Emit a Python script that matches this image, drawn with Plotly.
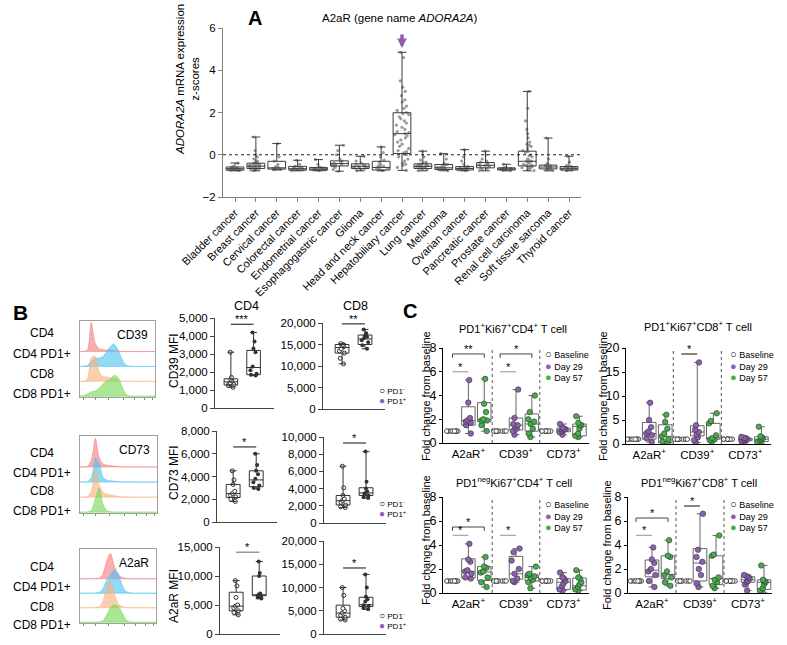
import plotly.graph_objects as go

W, H = 787, 645
FONT = "Arial, Liberation Sans, Helvetica, sans-serif"
PURPLE = "#8e5fb3"
GREEN = "#45ad4a"

# ---------------- Panel A: ADORA2A z-scores by cancer type ----------------
CANCERS = ["Bladder cancer", "Breast cancer", "Cervical cancer", "Colorectal cancer",
           "Endometrial cancer", "Esophagogastric cancer", "Glioma", "Head and neck cancer",
           "Hepatobiliary cancer", "Lung cancer", "Melanoma", "Ovarian cancer",
           "Pancreatic cancer", "Prostate cancer", "Renal cell carcinoma",
           "Soft tissue sarcoma", "Thyroid cancer"]
A_LO = [-0.76, -0.76, -0.72, -0.76, -0.76, -0.78, -0.76, -0.76, -0.74, -0.76, -0.76, -0.76, -0.76, -0.76, -0.76, -0.76, -0.76]
A_Q1 = [-0.73, -0.65, -0.68, -0.73, -0.73, -0.53, -0.65, -0.72, 0.06, -0.65, -0.70, -0.72, -0.62, -0.72, -0.53, -0.67, -0.72]
A_MED = [-0.66, -0.54, -0.62, -0.66, -0.68, -0.42, -0.55, -0.60, 1.00, -0.55, -0.62, -0.65, -0.50, -0.68, -0.31, -0.58, -0.64]
A_Q3 = [-0.58, -0.40, -0.31, -0.55, -0.60, -0.29, -0.43, -0.31, 1.99, -0.43, -0.46, -0.56, -0.37, -0.62, 0.17, -0.49, -0.56]
A_HI = [-0.39, 0.84, 0.53, -0.26, -0.23, 0.45, -0.07, 0.37, 4.85, 0.17, 0.05, 0.24, 0.17, -0.45, 3.00, 0.79, -0.07]
A_POINTS = [
    [-0.4, -0.55, -0.6, -0.62, -0.64, -0.65, -0.66, -0.67, -0.68, -0.69, -0.7, -0.7, -0.71, -0.72, -0.73, -0.75],
    [0.84, 0.2, 0.0, -0.1, -0.2, -0.3, -0.35, -0.4, -0.42, -0.45, -0.48, -0.5, -0.52, -0.55, -0.55, -0.58,
     -0.6, -0.6, -0.62, -0.65, -0.68, -0.7, -0.72, -0.75, -0.45, -0.5, -0.6, -0.65],
    [0.53, -0.1, -0.3, -0.45, -0.55, -0.6, -0.62, -0.64, -0.66, -0.68, -0.7],
    [-0.26, -0.45, -0.55, -0.58, -0.6, -0.62, -0.63, -0.64, -0.65, -0.66, -0.68, -0.7, -0.72, -0.75],
    [-0.23, -0.45, -0.6, -0.62, -0.65, -0.66, -0.67, -0.68, -0.7, -0.72, -0.75],
    [0.45, 0.2, 0.0, -0.2, -0.3, -0.35, -0.4, -0.45, -0.48, -0.5, -0.55, -0.6, -0.7, -0.78],
    [-0.07, -0.3, -0.4, -0.45, -0.5, -0.52, -0.55, -0.57, -0.6, -0.62, -0.65, -0.7, -0.75, -0.5, -0.6],
    [0.37, 0.1, -0.1, -0.25, -0.35, -0.45, -0.5, -0.55, -0.58, -0.6, -0.62, -0.65, -0.7, -0.75],
    [4.85, 4.6, 3.5, 3.2, 3.0, 2.8, 2.6, 2.5, 2.3, 2.1, 2.0, 1.9, 1.8, 1.6, 1.5, 1.4, 1.2, 1.1, 1.0,
     0.9, 0.8, 0.6, 0.5, 0.4, 0.2, 0.1, 0.0, -0.2, -0.3, -0.4, -0.5, -0.6, -0.74,
     1.95, 1.7, 1.3, 0.95, 0.7, 0.3, -0.1, -0.45, 2.2, 1.05, 0.15],
    [0.17, -0.1, -0.25, -0.35, -0.4, -0.42, -0.45, -0.48, -0.5, -0.52, -0.55, -0.57, -0.6, -0.62, -0.65, -0.7, -0.75,
     -0.45, -0.5, -0.55, -0.6],
    [0.05, -0.2, -0.4, -0.45, -0.5, -0.55, -0.58, -0.6, -0.62, -0.64, -0.66, -0.7, -0.75],
    [0.24, -0.1, -0.3, -0.45, -0.55, -0.58, -0.6, -0.62, -0.63, -0.65, -0.67, -0.7, -0.72, -0.75],
    [0.17, 0.0, -0.2, -0.3, -0.35, -0.4, -0.45, -0.48, -0.5, -0.52, -0.55, -0.6, -0.65, -0.7, -0.75],
    [-0.45, -0.6, -0.62, -0.64, -0.65, -0.66, -0.68, -0.7, -0.72, -0.75],
    [3.0, 2.2, 1.6, 1.2, 1.0, 0.8, 0.6, 0.5, 0.4, 0.3, 0.2, 0.1, 0.0, -0.1, -0.2, -0.25, -0.3, -0.35,
     -0.4, -0.45, -0.5, -0.55, -0.6, -0.62, -0.65, -0.7, -0.75, 0.45, 0.15, -0.05, -0.3, -0.5, -0.6],
    [0.79, -0.2, -0.4, -0.5, -0.52, -0.55, -0.57, -0.6, -0.62, -0.65, -0.7, -0.75],
    [-0.07, -0.35, -0.5, -0.55, -0.58, -0.6, -0.62, -0.64, -0.66, -0.68, -0.7, -0.75],
]

# ---------------- Panel B: flow histograms ----------------
HIST_ROWS = ["CD4", "CD4 PD1+", "CD8", "CD8 PD1+"]
HIST_X = [0.0, 0.05, 0.1, 0.15, 0.2, 0.25, 0.3, 0.35, 0.4, 0.45, 0.5,
          0.55, 0.6, 0.65, 0.7, 0.75, 0.8, 0.85, 0.9, 0.95, 1.0]
H_CD39 = [
    [0, 0, 0.1, 1.95, 0.6, 0.2, 0.12, 0.1, 0.1, 0.08, 0.05, 0.02, 0, 0, 0, 0, 0, 0, 0, 0, 0],
    [0, 0.02, 0.08, 0.35, 0.55, 0.55, 0.65, 0.95, 1.3, 1.5, 1.2, 0.6, 0.15, 0.03, 0, 0, 0, 0, 0, 0, 0],
    [0, 0, 0.15, 1.6, 1.7, 0.7, 0.35, 0.3, 0.25, 0.2, 0.1, 0.03, 0, 0, 0, 0, 0, 0, 0, 0, 0],
    [0, 0.05, 0.15, 0.3, 0.35, 0.5, 0.8, 1.0, 1.1, 1.4, 1.3, 0.8, 0.2, 0.03, 0, 0, 0, 0, 0, 0, 0],
]
H_CD73 = [
    [0, 0, 0.05, 0.5, 1.9, 0.6, 0.2, 0.12, 0.08, 0.05, 0.03, 0, 0, 0, 0, 0, 0, 0, 0, 0, 0],
    [0, 0, 0.03, 0.3, 1.6, 1.2, 0.3, 0.12, 0.08, 0.05, 0.03, 0, 0, 0, 0, 0, 0, 0, 0, 0, 0],
    [0, 0, 0.05, 0.4, 1.85, 0.8, 0.3, 0.2, 0.15, 0.1, 0.05, 0.02, 0, 0, 0, 0, 0, 0, 0, 0, 0],
    [0, 0, 0.02, 0.15, 0.9, 1.6, 0.5, 0.1, 0.03, 0, 0, 0, 0, 0, 0, 0, 0, 0, 0, 0, 0],
]
H_A2AR = [
    [0, 0, 0, 0, 0.02, 0.05, 0.3, 1.2, 1.75, 0.9, 0.3, 0.1, 0.03, 0, 0, 0, 0, 0, 0, 0, 0],
    [0, 0, 0, 0, 0.02, 0.05, 0.3, 0.9, 1.3, 1.6, 1.4, 0.6, 0.15, 0.03, 0, 0, 0, 0, 0, 0, 0],
    [0, 0, 0, 0, 0.02, 0.05, 0.4, 1.4, 1.9, 1.0, 0.3, 0.1, 0.02, 0, 0, 0, 0, 0, 0, 0, 0],
    [0, 0, 0, 0, 0, 0.02, 0.1, 0.5, 1.0, 1.2, 1.1, 0.7, 0.2, 0.03, 0, 0, 0, 0, 0, 0, 0],
]
HIST_MARKERS = ["CD39", "CD73", "A2aR"]

# ---------------- Panel B: MFI box plots (PD1- vs PD1+) ----------------
# box stats: [lower whisker, q1, median, q3, upper whisker]
B_CD39_CD4 = {"neg": [3100, 1700, 1600, 1500, 1400, 1350, 1300, 1250, 1150],
              "pos": [4200, 3700, 3300, 3100, 2300, 2100, 1900, 1850, 1800],
              "neg_box": [1150, 1280, 1450, 1620, 3100], "pos_box": [1800, 1850, 2250, 3200, 4200]}
B_CD39_CD8 = {"neg": [15200, 15000, 14800, 14500, 14000, 13500, 13000, 11800, 10500],
              "pos": [18500, 17600, 17000, 16800, 16500, 16000, 15500, 14800, 14000],
              "neg_box": [10500, 13000, 14300, 15000, 15200], "pos_box": [14000, 15000, 16300, 17200, 18500]}
B_CD73_CD4 = {"neg": [4500, 3700, 3300, 2700, 2500, 2350, 2200, 2000, 1800],
              "pos": [6000, 5000, 4500, 4200, 3800, 3500, 3200, 3000, 2900],
              "neg_box": [1800, 2150, 2500, 3300, 4500], "pos_box": [2900, 3100, 3700, 4500, 6000]}
B_CD73_CD8 = {"neg": [6600, 4100, 3200, 2800, 2600, 2400, 2100, 1900, 1800],
              "pos": [8300, 4800, 4000, 3700, 3500, 3400, 3200, 3000, 2900],
              "neg_box": [1800, 2100, 2600, 3200, 6600], "pos_box": [2900, 3200, 3500, 4100, 8300]}
B_A2AR_CD4 = {"neg": [9200, 8300, 6300, 5000, 4800, 4500, 4000, 3700, 3300],
              "pos": [12500, 10500, 10000, 7000, 6800, 6600, 6500, 6300, 6100],
              "neg_box": [3300, 4000, 4800, 7200, 9200], "pos_box": [6100, 6600, 6700, 10000, 12500]}
B_A2AR_CD8 = {"neg": [10000, 8300, 5500, 5000, 4500, 4000, 3600, 3200, 3000],
              "pos": [12800, 10000, 8000, 7500, 7000, 6200, 6000, 5600, 5300],
              "neg_box": [3000, 3600, 4500, 6200, 10000], "pos_box": [5300, 5900, 6300, 7900, 12800]}
B_SIG = ["***", "**", "*", "*", "*", "*"]
B_SIG_Y = [4650, 19800, 6600, 9300, 14100, 14200]

# ---------------- Panel C: fold change from baseline ----------------
C_MARKERS = ["A2aR<sup>+</sup>", "CD39<sup>+</sup>", "CD73<sup>+</sup>"]
C_TITLES = ["PD1<sup>+</sup>Ki67<sup>+</sup>CD4<sup>+</sup> T cell",
            "PD1<sup>+</sup>Ki67<sup>+</sup>CD8<sup>+</sup> T cell",
            "PD1<sup>neg</sup>Ki67<sup>+</sup>CD4<sup>+</sup> T cell",
            "PD1<sup>neg</sup>Ki67<sup>+</sup>CD8<sup>+</sup> T cell"]
C_BASELINE = [1, 1, 1, 1, 1, 1, 1, 1]
C1_D29 = [[5.3, 3.4, 2.1, 1.9, 1.8, 1.7, 1.5, 0.8], [4.5, 2.1, 1.6, 1.5, 1.4, 1.2, 1.0, 0.7],
          [1.6, 1.3, 1.2, 1.15, 1.1, 1.0, 0.9, 0.7]]
C1_D29_BOX = [[0.8, 1.5, 1.9, 3.05, 5.3], [0.7, 1.1, 1.5, 2.1, 4.5], [0.7, 0.95, 1.1, 1.25, 1.6]]
C1_D57 = [[5.4, 3.3, 2.6, 2.0, 1.9, 1.9, 1.5, 1.0], [4.0, 2.6, 2.0, 1.8, 1.6, 1.2, 0.8, 0.5],
          [2.25, 1.7, 1.55, 1.5, 1.2, 0.8, 0.6, 0.5]]
C1_D57_BOX = [[1.0, 1.8, 2.0, 3.4, 5.4], [0.5, 1.0, 1.6, 2.45, 4.0], [0.5, 0.6, 1.4, 1.6, 2.25]]
C2_D29 = [[8.6, 5.0, 3.5, 2.6, 2.2, 1.8, 1.2, 0.4], [17.0, 3.9, 3.0, 2.5, 2.0, 1.4, 0.8, 0.3],
          [1.5, 1.3, 1.2, 1.0, 1.0, 0.8, 0.5, 0.3]]
C2_D29_BOX = [[0.4, 1.0, 2.2, 4.5, 8.6], [0.3, 1.7, 2.5, 3.8, 17.0], [0.3, 0.7, 1.0, 1.2, 1.5]]
C2_D57 = [[6.1, 4.6, 3.2, 2.2, 1.6, 1.0, 0.5, 0.2], [6.4, 4.8, 4.3, 1.8, 1.2, 1.0, 0.8, 0.5],
          [3.6, 1.6, 1.4, 1.2, 1.0, 0.8, 0.4, 0.2]]
C2_D57_BOX = [[0.2, 0.3, 1.6, 4.0, 6.1], [0.5, 1.0, 1.3, 4.3, 6.4], [0.2, 0.5, 1.0, 1.5, 3.6]]
C3_D29 = [[4.1, 2.8, 2.6, 1.9, 1.8, 1.6, 1.3, 1.2], [3.7, 3.4, 2.7, 2.0, 1.6, 1.2, 1.0, 0.9],
          [1.7, 1.3, 1.2, 1.0, 0.8, 0.6, 0.3, 0.2]]
C3_D29_BOX = [[1.2, 1.25, 1.8, 2.85, 4.1], [0.9, 1.15, 1.6, 3.05, 3.7], [0.2, 0.3, 0.9, 1.2, 1.7]]
C3_D57 = [[3.0, 2.2, 2.1, 1.8, 1.7, 1.3, 0.9, 0.5], [2.2, 1.6, 1.5, 1.4, 1.3, 1.1, 0.9, 0.4],
          [1.9, 1.3, 1.2, 0.9, 0.7, 0.5, 0.3, 0.2]]
C3_D57_BOX = [[0.5, 1.05, 1.75, 2.2, 3.0], [0.4, 1.0, 1.3, 1.5, 2.2], [0.2, 0.25, 0.6, 1.25, 1.9]]
C4_D29 = [[3.8, 2.8, 2.5, 2.0, 1.8, 1.5, 1.0, 0.5], [6.6, 3.6, 3.0, 2.6, 2.0, 1.5, 0.8, 0.5],
          [1.5, 1.4, 1.3, 1.2, 1.0, 0.9, 0.7, 0.2]]
C4_D29_BOX = [[0.5, 1.35, 1.9, 2.75, 3.8], [0.5, 1.0, 2.5, 3.7, 6.6], [0.2, 0.9, 1.1, 1.35, 1.5]]
C4_D57 = [[4.4, 3.1, 3.0, 1.8, 1.5, 1.3, 0.9, 0.6], [4.8, 3.2, 3.1, 1.3, 1.1, 0.9, 0.6, 0.4],
          [2.3, 1.1, 1.0, 0.9, 0.7, 0.4, 0.2, 0.0]]
C4_D57_BOX = [[0.6, 1.2, 1.55, 3.1, 4.4], [0.4, 0.7, 1.2, 3.1, 4.8], [0.0, 0.3, 0.9, 1.1, 2.3]]
# significance: (from position, to position, height, label, bracket?)
C1_SIG = [(0, 1, 6.0, "*", False), (0, 2, 7.5, "**", True), (3, 4, 6.0, "*", False), (3, 5, 7.5, "*", True)]
C2_SIG = [(3, 4, 18.75, "*", False)]
C3_SIG = [(0, 1, 4.8, "*", False), (0, 2, 5.5, "*", True), (3, 4, 4.8, "*", False)]
C4_SIG = [(0, 1, 4.8, "*", False), (0, 2, 6.25, "*", True), (3, 4, 7.25, "*", False)]


def xd(a, b):
    return [a / W, b / W]


def yd(top, bot):
    return [1 - bot / H, 1 - top / H]


def rgba(hexc, a):
    h = hexc.lstrip("#")
    return "rgba(%d,%d,%d,%.2f)" % (int(h[0:2], 16), int(h[2:4], 16), int(h[4:6], 16), a)


fig = go.Figure()
axes = {}
shapes = []
anns = []


def add_axes(n, xdom, ydom, xopts, yopts):
    s = "" if n == 1 else str(n)
    base = dict(showgrid=False, zeroline=False, automargin=False,
                tickfont=dict(size=11, color="black"))
    axes["xaxis" + s] = {**base, "domain": xdom, "anchor": "y" + s, **xopts}
    axes["yaxis" + s] = {**base, "domain": ydom, "anchor": "x" + s, **yopts}
    return "x" + s, "y" + s


def ann(px, py, text, size, **kw):
    d = dict(x=px / W, y=1 - py / H, xref="paper", yref="paper", text=text, showarrow=False,
             font=dict(size=size, family=FONT, color="black"), xanchor="center", yanchor="middle")
    d.update(kw)
    anns.append(d)


def stat_box(xs, stats, xa, ya, color, width, lw=1.0):
    lo, q1, med, q3, hi = zip(*stats)
    fig.add_trace(go.Box(x=xs, lowerfence=list(lo), q1=list(q1), median=list(med), q3=list(q3),
                         upperfence=list(hi), boxpoints=False, fillcolor="rgba(0,0,0,0)",
                         line=dict(color=color, width=lw), width=width, whiskerwidth=0.5,
                         xaxis=xa, yaxis=ya, hoverinfo="skip", showlegend=False))


def point_box(xs, groups, xa, ya, marker, width, jitter):
    x = [xv for xv, g in zip(xs, groups) for _ in g]
    y = [v for g in groups for v in g]
    fig.add_trace(go.Box(x=x, y=y, boxpoints="all", jitter=jitter, pointpos=0,
                         fillcolor="rgba(0,0,0,0)", line=dict(color="rgba(0,0,0,0)", width=0),
                         marker=marker, width=width, xaxis=xa, yaxis=ya,
                         hoverinfo="skip", showlegend=False))


def sig(xa, ya, x0, x1, y, text, color, bracket, tick):
    if bracket:
        shapes.append(dict(type="path", xref=xa, yref=ya,
                           path="M %s,%s L %s,%s L %s,%s L %s,%s" % (x0, y - tick, x0, y, x1, y, x1, y - tick),
                           line=dict(color=color, width=1)))
    else:
        shapes.append(dict(type="line", xref=xa, yref=ya, x0=x0, x1=x1, y0=y, y1=y,
                           line=dict(color=color, width=1.3)))
    anns.append(dict(x=(x0 + x1) / 2, y=y, xref=xa, yref=ya, text=text, showarrow=False,
                     yanchor="bottom", yshift=-3, font=dict(size=11, family=FONT, color="black")))


# ---- Panel A
xa, ya = add_axes(1, xd(223, 581), yd(28, 197),
                  dict(type="category", categoryorder="array", categoryarray=CANCERS,
                       range=[-0.575, 16.575], showline=True, linecolor="#808080", linewidth=1.3,
                       ticks="outside", ticklen=4, tickcolor="#808080", tickangle=-45),
                  dict(range=[-2, 6], dtick=2, showline=True, linecolor="#808080", linewidth=1.3,
                       ticks="outside", ticklen=4, tickcolor="#808080", tickfont=dict(size=11.5)))
point_box(CANCERS, A_POINTS, xa, ya, dict(color="#8a8a8a", size=3.2, opacity=0.85), 0.8, 0.9)
stat_box(CANCERS, list(zip(A_LO, A_Q1, A_MED, A_Q3, A_HI)), xa, ya, "#3a3a3a", 0.85, 1.0)
shapes.append(dict(type="line", xref=xa + " domain", yref=ya, x0=0, x1=1, y0=0, y1=0,
                   line=dict(color="#222", width=1.2, dash="dot")))
anns.append(dict(x=CANCERS[8], y=5.05, xref=xa, yref=ya, text="", showarrow=True, ax=0, ay=-15,
                 arrowcolor=PURPLE, arrowwidth=3.5, arrowhead=2, arrowsize=0.55))
ann(400, 18, "A2aR (gene name <i>ADORA2A</i>)", 11.5)
ann(187, 80, "<i>ADORA2A</i> mRNA expression<br>z-scores", 11.5, textangle=-90)
ann(255, 18, "<b>A</b>", 20)

# ---- Panel B histograms
HIST_COLORS = ["#f47c7c", "#4cc3f0", "#f5b27c", "#74d957"]
hist_boxes = [(80, 155, 321, 397), (80, 157, 436, 513), (80, 156, 549, 623)]
hist_label_y = [[333, 354, 374, 394], [453, 473, 491, 511], [567, 587, 607, 625]]
for i, (curves, (x0, x1, y0, y1)) in enumerate(zip([H_CD39, H_CD73, H_A2AR], hist_boxes)):
    frame = dict(showline=True, mirror=True, linecolor="#a0a0a0", linewidth=1)
    xa, ya = add_axes(2 + i, xd(x0, x1), yd(y0, y1),
                      dict(range=[0, 1], showticklabels=False, ticks="outside", ticklen=2,
                           tickcolor="#888", tickvals=[0.04, 0.2, 0.38, 0.58, 0.73, 0.86, 0.97], **frame),
                      dict(range=[-0.05, 5.05], showticklabels=False, **frame))
    for r, heights in enumerate(curves):
        base = 3 - r
        xs = HIST_X + HIST_X[::-1]
        ys = [base + h for h in heights] + [base] * len(HIST_X)
        fig.add_trace(go.Scatter(x=xs, y=ys, mode="lines", fill="toself",
                                 fillcolor=rgba(HIST_COLORS[r], 0.62),
                                 line=dict(color=rgba(HIST_COLORS[r], 0.55), width=1, shape="spline",
                                           smoothing=0.6),
                                 xaxis=xa, yaxis=ya, hoverinfo="skip", showlegend=False))
    anns.append(dict(x=0.93, y=0.93, xref=xa + " domain", yref=ya + " domain", text=HIST_MARKERS[i],
                     showarrow=False, xanchor="right", yanchor="top",
                     font=dict(size=12, family=FONT, color="black")))
    for lab, py in zip(HIST_ROWS, hist_label_y[i]):
        ann(42, py, lab, 12)
ann(20, 312, "<b>B</b>", 21)

# ---- Panel B box plots
b_sets = [B_CD39_CD4, B_CD39_CD8, B_CD73_CD4, B_CD73_CD8, B_A2AR_CD4, B_A2AR_CD8]
b_dom = [((215, 274), (318, 408)), ((323, 385), (323, 409)),
         ((217, 277), (431, 522)), ((324, 386), (437, 523)),
         ((220, 280), (547, 634)), ((324, 386), (541, 634))]
b_range = [(5000, 1000), (20000, 5000), (8000, 2000), (10000, 2000), (15000, 5000), (20000, 5000)]
for k, data in enumerate(b_sets):
    (x0, x1), (y0, y1) = b_dom[k]
    top, dt = b_range[k]
    xr = [-0.7, 1.9] if k % 2 == 0 else [-0.83, 1.87]
    xa, ya = add_axes(5 + k, xd(x0, x1), yd(y0, y1),
                      dict(range=xr, showline=True, linecolor="#444", showticklabels=False, ticks=""),
                      dict(range=[0, top], dtick=dt, tickformat=",d", showline=True, linecolor="#444",
                           ticks="outside", ticklen=4, tickcolor="#444", tickfont=dict(size=11.5)))
    point_box([0], [data["neg"]], xa, ya,
              dict(color="white", size=4, line=dict(color="#333", width=1)), 0.6, 0.6)
    point_box([1], [data["pos"]], xa, ya, dict(color="#333", size=4), 0.6, 0.6)
    stat_box([0, 1], [data["neg_box"], data["pos_box"]], xa, ya, "#333", 0.6, 1.0)
    sig(xa, ya, 0, 1, B_SIG_Y[k], B_SIG[k], "#888" if k == 4 else "#444", False, 0)
ann(246, 306, "CD4", 12.5)
ann(355, 306, "CD8", 12.5)
ann(174, 361, "CD39 MFI", 12, textangle=-90)
ann(174, 473, "CD73 MFI", 12, textangle=-90)
ann(174, 596, "A2aR MFI", 12, textangle=-90)
b_leg = ('<span style="font-size:10px">○</span> PD1<sup>-</sup><br>'
         '<span style="color:%s;font-size:10px">●</span> PD1<sup>+</sup>') % PURPLE
for py in [383, 496, 608]:
    ann(377, py, b_leg, 8, xanchor="left", yanchor="top", align="left")

# ---- Panel C
c_sets = [(C1_D29, C1_D29_BOX, C1_D57, C1_D57_BOX, C1_SIG),
          (C2_D29, C2_D29_BOX, C2_D57, C2_D57_BOX, C2_SIG),
          (C3_D29, C3_D29_BOX, C3_D57, C3_D57_BOX, C3_SIG),
          (C4_D29, C4_D29_BOX, C4_D57, C4_D57_BOX, C4_SIG)]
c_dom = [((443, 589), (348, 443), [-0.6, 8.6], 8, 2),
         ((626, 771), (348, 444), [-0.45, 8.6], 20, 5),
         ((443, 589), (497, 593), [-0.6, 8.6], 8, 2),
         ((628, 772), (497, 593), [-0.5, 8.5], 8, 2)]
c_title_pos = [(513, 328), (698, 326), (514, 482), (699, 482)]
c_ytitle_pos = [(426, 396), (603, 396), (426, 540), (607, 545)]
c_leg_pos = [(543, 346), (728, 346), (543, 496), (728, 496)]
BASE_X, D29_X, D57_X = [0, 3, 6], [1, 4, 7], [2, 5, 8]
c_leg = ('<span style="font-size:11px">○</span> Baseline<br>'
         '<span style="color:%s;font-size:11px">●</span> Day 29<br>'
         '<span style="color:%s;font-size:11px">●</span> Day 57') % (PURPLE, GREEN)
for k, (d29, d29b, d57, d57b, sigs) in enumerate(c_sets):
    (x0, x1), (y0, y1), xr, top, dt = c_dom[k]
    xa, ya = add_axes(11 + k, xd(x0, x1), yd(y0, y1),
                      dict(range=xr, tickvals=D29_X, ticktext=C_MARKERS, ticks="", showline=True,
                           linecolor="black", tickfont=dict(size=11.5)),
                      dict(range=[0, top], dtick=dt, showline=True, linecolor="black", ticks="outside",
                           ticklen=3, tickcolor="black", tickfont=dict(size=12.5)))
    point_box(BASE_X, [C_BASELINE] * 3, xa, ya,
              dict(color="white", size=4.5, line=dict(color="#222", width=0.8)), 0.85, 1.0)
    stat_box(D29_X, d29b, xa, ya, "#666", 0.85, 1.0)
    stat_box(D57_X, d57b, xa, ya, "#666", 0.85, 1.0)
    point_box(D29_X, d29, xa, ya, dict(color=PURPLE, size=5.5, line=dict(color="#333", width=0.6)), 0.85, 0.7)
    point_box(D57_X, d57, xa, ya, dict(color=GREEN, size=5.5, line=dict(color="#333", width=0.6)), 0.85, 0.7)
    for sx in [2.5, 5.5]:
        shapes.append(dict(type="line", xref=xa, yref=ya + " domain", x0=sx, x1=sx, y0=0, y1=1,
                           line=dict(color="#555", width=1, dash="dot")))
    for (s0, s1, sy, txt, br) in sigs:
        col = "#444" if (br or (k in (1, 3) and s0 == 3)) else "#aaa"
        sig(xa, ya, s0, s1, sy, txt, col, br, top * 0.04)
    ann(*c_title_pos[k], C_TITLES[k], 11)
    ann(*c_ytitle_pos[k], "Fold change from baseline", 11, textangle=-90)
    ann(*c_leg_pos[k], c_leg, 9, xanchor="left", yanchor="top", align="left")
ann(410, 311, "<b>C</b>", 20)

fig.update_layout(width=W, height=H, margin=dict(l=0, r=0, t=0, b=0), showlegend=False,
                  boxmode="overlay", plot_bgcolor="white", paper_bgcolor="white",
                  font=dict(family=FONT, color="black"), shapes=shapes, annotations=anns, **axes)
# the page's default body margin would shift the whole figure by 8px
fig.write_html("out.html", config={"displayModeBar": False},
               post_script="document.body.style.margin='0px';")
